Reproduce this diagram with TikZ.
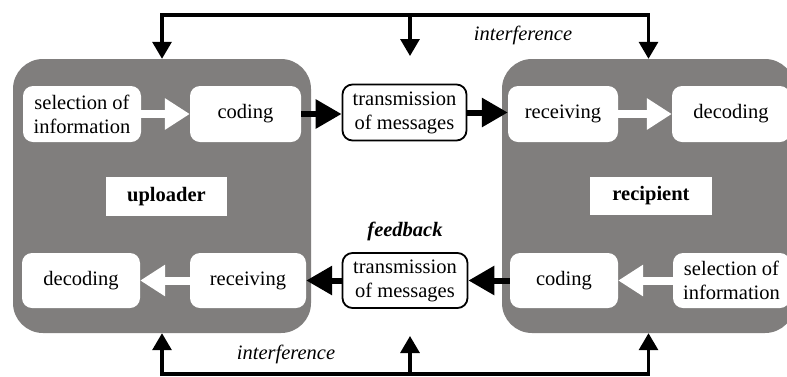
\documentclass[tikz,border=0pt]{standalone}
\usepackage{fontspec}
\setmainfont{Liberation Serif}
\usetikzlibrary{arrows.meta,calc}
\definecolor{panel}{RGB}{128,126,125}
\newcommand{\labelsize}{\fontsize{20.5}{24}\selectfont}
\tikzset{
  panelbox/.style={fill=panel, rounded corners=30pt, inner sep=0pt},
  stage/.style={fill=white, rounded corners=10pt, align=center, inner sep=1pt,
    font=\labelsize},
  channel/.style={stage, draw=black, line width=1.8pt},
  role/.style={fill=white, inner sep=0pt, font=\labelsize\bfseries},
  inner/.style={draw=white, line width=8pt,
    -{Triangle[length=25pt,width=30pt]}},
  flow/.style={draw=black, line width=6pt,
    -{Triangle[length=26pt,width=28pt]}},
  noise/.style={draw=black, line width=3.2pt, line cap=butt},
  noisetip/.style={noise, -{Triangle[length=17pt,width=19pt]}},
  caption/.style={font=\labelsize\itshape}
}
\begin{document}
\begin{tikzpicture}[x=1pt,y=-1pt]
\useasboundingbox (0,0) rectangle (787,376);
\fill[white] (0,0) rectangle (787,376);

% the two parties
\node[panelbox, minimum width=298pt, minimum height=274pt] (ubox) at (162,196) {};
\node[panelbox, minimum width=293pt, minimum height=274pt] (rbox) at (648.5,196) {};

% stages of the forward message
\node[stage, minimum width=118pt, minimum height=56pt] (sel1) at (82,114) {selection of\\information};
\node[stage, minimum width=111pt, minimum height=56pt] (cod1) at (245.5,114) {coding};
\node[channel, minimum width=124pt, minimum height=56pt] (tr1) at (404.5,112.5) {transmission\\of messages};
\node[stage, minimum width=110pt, minimum height=56pt] (rec1) at (563,114) {receiving};
\node[stage, minimum width=118pt, minimum height=56pt] (dec1) at (731,114) {decoding};

% role labels
\node[role, minimum width=121pt, minimum height=39pt] (upl) at (166.5,196.5) {uploader};
\node[role, minimum width=122pt, minimum height=38pt] (rcp) at (651,196) {recipient};

% stages of the feedback
\node[stage, minimum width=118pt, minimum height=55pt] (dec2) at (81,280.5) {decoding};
\node[stage, minimum width=116pt, minimum height=55pt] (rec2) at (248,280.5) {receiving};
\node[channel, minimum width=125pt, minimum height=55pt] (tr2) at (405,280.5) {transmission\\of messages};
\node[stage, minimum width=108pt, minimum height=55pt] (cod2) at (564,280.5) {coding};
\node[stage, minimum width=117pt, minimum height=55pt] (sel2) at (731.5,280.5) {selection of\\information};

\node[caption, font=\labelsize\bfseries\itshape] (fb) at (405,231) {feedback};
\node[caption] (itop) at (523,35) {interference};
\node[caption] (ibot) at (286,354) {interference};

% arrows inside the panels
\draw[inner] (sel1) -- (cod1);
\draw[inner] (rec1) -- (dec1);
\draw[inner] (rec2) -- (dec2);
\draw[inner] (sel2) -- (cod2);

% arrows between the panels
\draw[flow] (cod1.east) -- (tr1.west |- cod1.east);
\draw[flow] (tr1.east) -- (rec1.west |- tr1.east);
\draw[flow] (cod2.west) -- (tr2.east |- cod2.west);
\draw[flow] (tr2.west) -- (rec2.east |- tr2.west);

% interference from above
\coordinate (tl) at (ubox.north |- 0,15);
\coordinate (tr) at (rbox.north |- 0,15);
\coordinate (tm) at (410,15);
\coordinate (tmend) at (410,56);
\draw[noise] ([xshift=-1.6pt]tl) -- ([xshift=1.6pt]tr);
\draw[noisetip] (tl) -- (ubox.north);
\draw[noisetip] (tr) -- (rbox.north);
\draw[noisetip] (tm) -- (tmend);

% interference from below
\coordinate (bl) at (ubox.south |- 0,374);
\coordinate (br) at (rbox.south |- 0,374);
\coordinate (bm) at (410,374);
\coordinate (bmend) at (410,336);
\draw[noise] ([xshift=-1.6pt]bl) -- ([xshift=1.6pt]br);
\draw[noisetip] (bl) -- (ubox.south);
\draw[noisetip] (br) -- (rbox.south);
\draw[noisetip] (bm) -- (bmend);
\end{tikzpicture}
\end{document}
